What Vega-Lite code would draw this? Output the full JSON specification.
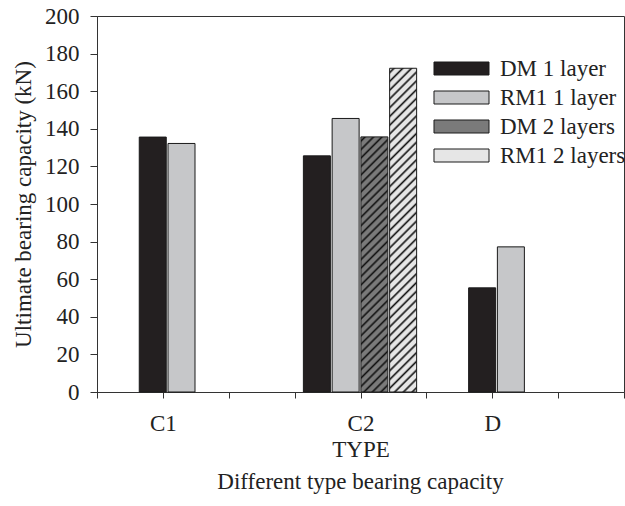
{
  "$schema": "https://vega.github.io/schema/vega-lite/v6.json",
  "width": 527,
  "height": 376,
  "autosize": {"type": "none"},
  "padding": {"left": 97, "top": 16, "right": 1, "bottom": 114},
  "background": "white",
  "config": {
    "font": "Liberation Serif",
    "view": {"stroke": "#333", "strokeWidth": 1},
    "axis": {
      "domainColor": "#333", "tickColor": "#333", "labelColor": "#222", "titleColor": "#222",
      "labelFont": "Liberation Serif", "titleFont": "Liberation Serif",
      "labelFontSize": 23, "titleFontSize": 23, "titleFontWeight": "normal", "grid": false
    },
    "legend": {"labelFont": "Liberation Serif", "labelFontSize": 23, "labelColor": "#222"}
  },
  "title": {
    "text": "Different type bearing capacity",
    "orient": "bottom", "anchor": "middle", "fontSize": 23, "fontWeight": "normal",
    "font": "Liberation Serif", "color": "#222", "offset": 10
  },
  "data": {
    "values": [
      {"TYPE": "C1", "series": "DM 1 layer", "capacity": 135.6},
      {"TYPE": "C1", "series": "RM1 1 layer", "capacity": 132.2},
      {"TYPE": "C2", "series": "DM 1 layer", "capacity": 125.6},
      {"TYPE": "C2", "series": "RM1 1 layer", "capacity": 145.5},
      {"TYPE": "C2", "series": "DM 2 layers", "capacity": 135.7},
      {"TYPE": "C2", "series": "RM1 2 layers", "capacity": 172.2},
      {"TYPE": "D", "series": "DM 1 layer", "capacity": 55.4},
      {"TYPE": "D", "series": "RM1 1 layer", "capacity": 77.2}
    ]
  },
  "encoding": {
    "x": {
      "field": "TYPE", "type": "nominal",
      "scale": {"type": "point", "domain": ["_0", "C1", "_2", "_3", "C2", "_5", "D", "_7", "_8"], "padding": 0},
      "axis": {
        "title": "TYPE", "labelAngle": 0, "tickSize": 6, "labelPadding": 14, "titlePadding": 3,
        "labelExpr": "slice(datum.value, 0, 1) === '_' ? '' : datum.value"
      }
    },
    "y": {
      "field": "capacity", "type": "quantitative",
      "scale": {"domain": [0, 200], "nice": false},
      "axis": {
        "title": "Ultimate bearing capacity (kN)", "values": [0, 20, 40, 60, 80, 100, 120, 140, 160, 180, 200],
        "tickSize": 7, "labelPadding": 11, "titlePadding": 9
      }
    }
  },
  "layer": [
    {
      "transform": [{"filter": "datum.TYPE === 'C2'"}],
      "mark": {"type": "bar", "width": 27, "stroke": "#1a1a1a", "strokeWidth": 1},
      "encoding": {
        "xOffset": {
          "field": "series", "type": "nominal",
          "scale": {"domain": ["DM 1 layer", "RM1 1 layer", "DM 2 layers", "RM1 2 layers"], "range": [-58, 57]}
        },
        "fill": {
          "condition": [
            {"test": "datum.series === 'DM 2 layers'", "value": {"gradient": "linear", "x1": 0, "y1": 0, "x2": 0.1158, "y2": 1.0937, "stops": [
              {"offset": 0.007, "color": "#7a7a7a"}, {"offset": 0.015, "color": "#111"}, {"offset": 0.023, "color": "#7a7a7a"},
              {"offset": 0.037, "color": "#7a7a7a"}, {"offset": 0.045, "color": "#111"}, {"offset": 0.053, "color": "#7a7a7a"},
              {"offset": 0.067, "color": "#7a7a7a"}, {"offset": 0.075, "color": "#111"}, {"offset": 0.083, "color": "#7a7a7a"},
              {"offset": 0.097, "color": "#7a7a7a"}, {"offset": 0.105, "color": "#111"}, {"offset": 0.113, "color": "#7a7a7a"},
              {"offset": 0.127, "color": "#7a7a7a"}, {"offset": 0.135, "color": "#111"}, {"offset": 0.143, "color": "#7a7a7a"},
              {"offset": 0.157, "color": "#7a7a7a"}, {"offset": 0.165, "color": "#111"}, {"offset": 0.173, "color": "#7a7a7a"},
              {"offset": 0.187, "color": "#7a7a7a"}, {"offset": 0.195, "color": "#111"}, {"offset": 0.203, "color": "#7a7a7a"},
              {"offset": 0.217, "color": "#7a7a7a"}, {"offset": 0.225, "color": "#111"}, {"offset": 0.233, "color": "#7a7a7a"},
              {"offset": 0.247, "color": "#7a7a7a"}, {"offset": 0.255, "color": "#111"}, {"offset": 0.263, "color": "#7a7a7a"},
              {"offset": 0.277, "color": "#7a7a7a"}, {"offset": 0.285, "color": "#111"}, {"offset": 0.293, "color": "#7a7a7a"},
              {"offset": 0.307, "color": "#7a7a7a"}, {"offset": 0.315, "color": "#111"}, {"offset": 0.323, "color": "#7a7a7a"},
              {"offset": 0.337, "color": "#7a7a7a"}, {"offset": 0.345, "color": "#111"}, {"offset": 0.353, "color": "#7a7a7a"},
              {"offset": 0.367, "color": "#7a7a7a"}, {"offset": 0.375, "color": "#111"}, {"offset": 0.383, "color": "#7a7a7a"},
              {"offset": 0.397, "color": "#7a7a7a"}, {"offset": 0.405, "color": "#111"}, {"offset": 0.413, "color": "#7a7a7a"},
              {"offset": 0.427, "color": "#7a7a7a"}, {"offset": 0.435, "color": "#111"}, {"offset": 0.443, "color": "#7a7a7a"},
              {"offset": 0.457, "color": "#7a7a7a"}, {"offset": 0.465, "color": "#111"}, {"offset": 0.473, "color": "#7a7a7a"},
              {"offset": 0.487, "color": "#7a7a7a"}, {"offset": 0.495, "color": "#111"}, {"offset": 0.503, "color": "#7a7a7a"},
              {"offset": 0.517, "color": "#7a7a7a"}, {"offset": 0.525, "color": "#111"}, {"offset": 0.533, "color": "#7a7a7a"},
              {"offset": 0.547, "color": "#7a7a7a"}, {"offset": 0.555, "color": "#111"}, {"offset": 0.563, "color": "#7a7a7a"},
              {"offset": 0.577, "color": "#7a7a7a"}, {"offset": 0.585, "color": "#111"}, {"offset": 0.593, "color": "#7a7a7a"},
              {"offset": 0.607, "color": "#7a7a7a"}, {"offset": 0.615, "color": "#111"}, {"offset": 0.623, "color": "#7a7a7a"},
              {"offset": 0.637, "color": "#7a7a7a"}, {"offset": 0.645, "color": "#111"}, {"offset": 0.653, "color": "#7a7a7a"},
              {"offset": 0.667, "color": "#7a7a7a"}, {"offset": 0.675, "color": "#111"}, {"offset": 0.683, "color": "#7a7a7a"},
              {"offset": 0.697, "color": "#7a7a7a"}, {"offset": 0.705, "color": "#111"}, {"offset": 0.713, "color": "#7a7a7a"},
              {"offset": 0.727, "color": "#7a7a7a"}, {"offset": 0.735, "color": "#111"}, {"offset": 0.743, "color": "#7a7a7a"},
              {"offset": 0.757, "color": "#7a7a7a"}, {"offset": 0.765, "color": "#111"}, {"offset": 0.773, "color": "#7a7a7a"},
              {"offset": 0.787, "color": "#7a7a7a"}, {"offset": 0.795, "color": "#111"}, {"offset": 0.803, "color": "#7a7a7a"},
              {"offset": 0.817, "color": "#7a7a7a"}, {"offset": 0.825, "color": "#111"}, {"offset": 0.833, "color": "#7a7a7a"},
              {"offset": 0.847, "color": "#7a7a7a"}, {"offset": 0.855, "color": "#111"}, {"offset": 0.863, "color": "#7a7a7a"},
              {"offset": 0.877, "color": "#7a7a7a"}, {"offset": 0.885, "color": "#111"}, {"offset": 0.893, "color": "#7a7a7a"},
              {"offset": 0.907, "color": "#7a7a7a"}, {"offset": 0.915, "color": "#111"}, {"offset": 0.923, "color": "#7a7a7a"},
              {"offset": 0.937, "color": "#7a7a7a"}, {"offset": 0.945, "color": "#111"}, {"offset": 0.953, "color": "#7a7a7a"},
              {"offset": 0.967, "color": "#7a7a7a"}, {"offset": 0.975, "color": "#111"}, {"offset": 0.983, "color": "#7a7a7a"}
            ]}},
            {"test": "datum.series === 'RM1 2 layers'", "value": {"gradient": "linear", "x1": 0, "y1": 0, "x2": 0.0898, "y2": 1.076, "stops": [
              {"offset": 0.006, "color": "#e6e6e6"}, {"offset": 0.0125, "color": "#111"}, {"offset": 0.019, "color": "#e6e6e6"},
              {"offset": 0.031, "color": "#e6e6e6"}, {"offset": 0.0375, "color": "#111"}, {"offset": 0.044, "color": "#e6e6e6"},
              {"offset": 0.056, "color": "#e6e6e6"}, {"offset": 0.0625, "color": "#111"}, {"offset": 0.069, "color": "#e6e6e6"},
              {"offset": 0.081, "color": "#e6e6e6"}, {"offset": 0.0875, "color": "#111"}, {"offset": 0.094, "color": "#e6e6e6"},
              {"offset": 0.106, "color": "#e6e6e6"}, {"offset": 0.1125, "color": "#111"}, {"offset": 0.119, "color": "#e6e6e6"},
              {"offset": 0.131, "color": "#e6e6e6"}, {"offset": 0.1375, "color": "#111"}, {"offset": 0.144, "color": "#e6e6e6"},
              {"offset": 0.156, "color": "#e6e6e6"}, {"offset": 0.1625, "color": "#111"}, {"offset": 0.169, "color": "#e6e6e6"},
              {"offset": 0.181, "color": "#e6e6e6"}, {"offset": 0.1875, "color": "#111"}, {"offset": 0.194, "color": "#e6e6e6"},
              {"offset": 0.206, "color": "#e6e6e6"}, {"offset": 0.2125, "color": "#111"}, {"offset": 0.219, "color": "#e6e6e6"},
              {"offset": 0.231, "color": "#e6e6e6"}, {"offset": 0.2375, "color": "#111"}, {"offset": 0.244, "color": "#e6e6e6"},
              {"offset": 0.256, "color": "#e6e6e6"}, {"offset": 0.2625, "color": "#111"}, {"offset": 0.269, "color": "#e6e6e6"},
              {"offset": 0.281, "color": "#e6e6e6"}, {"offset": 0.2875, "color": "#111"}, {"offset": 0.294, "color": "#e6e6e6"},
              {"offset": 0.306, "color": "#e6e6e6"}, {"offset": 0.3125, "color": "#111"}, {"offset": 0.319, "color": "#e6e6e6"},
              {"offset": 0.331, "color": "#e6e6e6"}, {"offset": 0.3375, "color": "#111"}, {"offset": 0.344, "color": "#e6e6e6"},
              {"offset": 0.356, "color": "#e6e6e6"}, {"offset": 0.3625, "color": "#111"}, {"offset": 0.369, "color": "#e6e6e6"},
              {"offset": 0.381, "color": "#e6e6e6"}, {"offset": 0.3875, "color": "#111"}, {"offset": 0.394, "color": "#e6e6e6"},
              {"offset": 0.406, "color": "#e6e6e6"}, {"offset": 0.4125, "color": "#111"}, {"offset": 0.419, "color": "#e6e6e6"},
              {"offset": 0.431, "color": "#e6e6e6"}, {"offset": 0.4375, "color": "#111"}, {"offset": 0.444, "color": "#e6e6e6"},
              {"offset": 0.456, "color": "#e6e6e6"}, {"offset": 0.4625, "color": "#111"}, {"offset": 0.469, "color": "#e6e6e6"},
              {"offset": 0.481, "color": "#e6e6e6"}, {"offset": 0.4875, "color": "#111"}, {"offset": 0.494, "color": "#e6e6e6"},
              {"offset": 0.506, "color": "#e6e6e6"}, {"offset": 0.5125, "color": "#111"}, {"offset": 0.519, "color": "#e6e6e6"},
              {"offset": 0.531, "color": "#e6e6e6"}, {"offset": 0.5375, "color": "#111"}, {"offset": 0.544, "color": "#e6e6e6"},
              {"offset": 0.556, "color": "#e6e6e6"}, {"offset": 0.5625, "color": "#111"}, {"offset": 0.569, "color": "#e6e6e6"},
              {"offset": 0.581, "color": "#e6e6e6"}, {"offset": 0.5875, "color": "#111"}, {"offset": 0.594, "color": "#e6e6e6"},
              {"offset": 0.606, "color": "#e6e6e6"}, {"offset": 0.6125, "color": "#111"}, {"offset": 0.619, "color": "#e6e6e6"},
              {"offset": 0.631, "color": "#e6e6e6"}, {"offset": 0.6375, "color": "#111"}, {"offset": 0.644, "color": "#e6e6e6"},
              {"offset": 0.656, "color": "#e6e6e6"}, {"offset": 0.6625, "color": "#111"}, {"offset": 0.669, "color": "#e6e6e6"},
              {"offset": 0.681, "color": "#e6e6e6"}, {"offset": 0.6875, "color": "#111"}, {"offset": 0.694, "color": "#e6e6e6"},
              {"offset": 0.706, "color": "#e6e6e6"}, {"offset": 0.7125, "color": "#111"}, {"offset": 0.719, "color": "#e6e6e6"},
              {"offset": 0.731, "color": "#e6e6e6"}, {"offset": 0.7375, "color": "#111"}, {"offset": 0.744, "color": "#e6e6e6"},
              {"offset": 0.756, "color": "#e6e6e6"}, {"offset": 0.7625, "color": "#111"}, {"offset": 0.769, "color": "#e6e6e6"},
              {"offset": 0.781, "color": "#e6e6e6"}, {"offset": 0.7875, "color": "#111"}, {"offset": 0.794, "color": "#e6e6e6"},
              {"offset": 0.806, "color": "#e6e6e6"}, {"offset": 0.8125, "color": "#111"}, {"offset": 0.819, "color": "#e6e6e6"},
              {"offset": 0.831, "color": "#e6e6e6"}, {"offset": 0.8375, "color": "#111"}, {"offset": 0.844, "color": "#e6e6e6"},
              {"offset": 0.856, "color": "#e6e6e6"}, {"offset": 0.8625, "color": "#111"}, {"offset": 0.869, "color": "#e6e6e6"},
              {"offset": 0.881, "color": "#e6e6e6"}, {"offset": 0.8875, "color": "#111"}, {"offset": 0.894, "color": "#e6e6e6"},
              {"offset": 0.906, "color": "#e6e6e6"}, {"offset": 0.9125, "color": "#111"}, {"offset": 0.919, "color": "#e6e6e6"},
              {"offset": 0.931, "color": "#e6e6e6"}, {"offset": 0.9375, "color": "#111"}, {"offset": 0.944, "color": "#e6e6e6"},
              {"offset": 0.956, "color": "#e6e6e6"}, {"offset": 0.9625, "color": "#111"}, {"offset": 0.969, "color": "#e6e6e6"},
              {"offset": 0.981, "color": "#e6e6e6"}, {"offset": 0.9875, "color": "#111"}, {"offset": 0.994, "color": "#e6e6e6"}
            ]}}
          ],
          "field": "series", "type": "nominal",
          "scale": {
            "domain": ["DM 1 layer", "RM1 1 layer", "DM 2 layers", "RM1 2 layers"],
            "range": ["#231f20", "#c6c7c9", "#7a7a7a", "#e6e6e6"]
          },
          "legend": {
            "title": null, "orient": "none", "legendX": 353, "legendY": 41, "padding": 0,
            "symbolType": "M-4.231,-1H4.231V1H-4.231Z", "symbolSize": 169,
            "symbolStrokeColor": "#1a1a1a", "symbolStrokeWidth": 1, "symbolOpacity": 1,
            "labelOffset": 27, "rowPadding": 5
          }
        }
      }
    },
    {
      "transform": [{"filter": "datum.TYPE !== 'C2'"}],
      "mark": {"type": "bar", "width": 27, "stroke": "#1a1a1a", "strokeWidth": 1},
      "encoding": {
        "xOffset": {
          "field": "series", "type": "nominal",
          "scale": {"domain": ["DM 1 layer", "RM1 1 layer"], "range": [-24.5, 33]}
        },
        "fill": {"field": "series", "type": "nominal", "legend": null}
      }
    }
  ],
  "resolve": {"scale": {"xOffset": "independent"}}
}
